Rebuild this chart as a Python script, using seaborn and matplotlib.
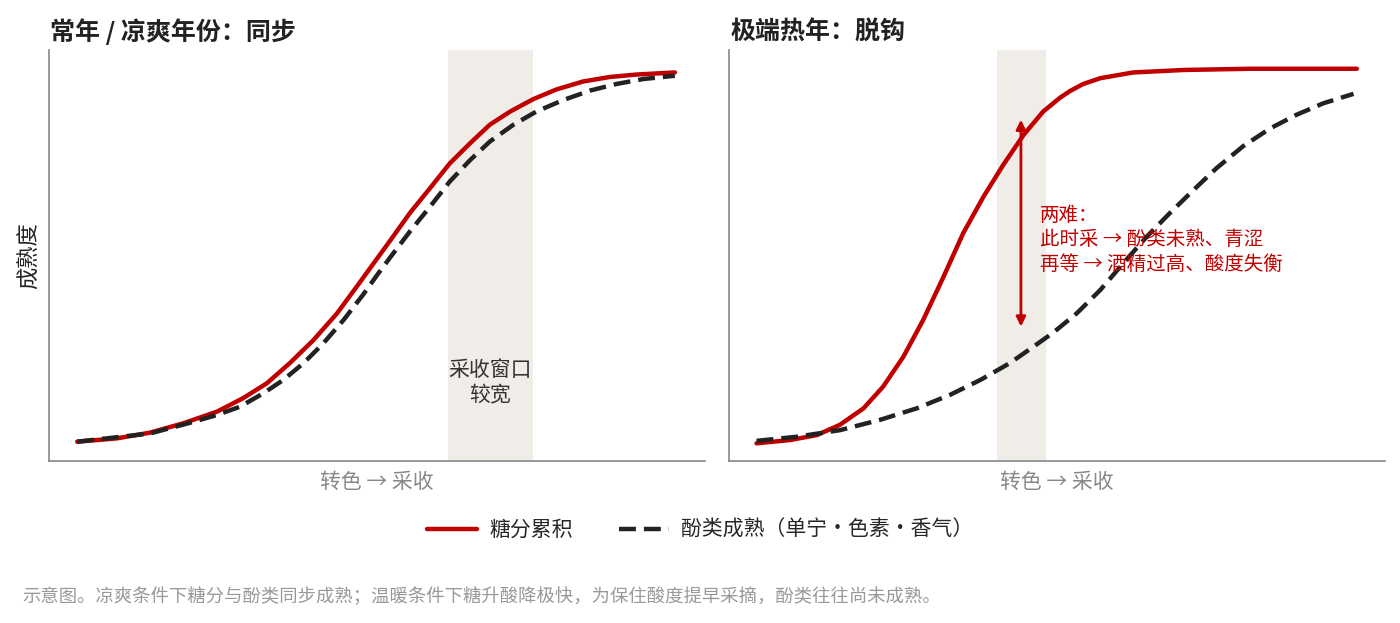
import numpy as np
import pandas as pd
import matplotlib
matplotlib.use("Agg")
import matplotlib.pyplot as plt
from matplotlib.lines import Line2D
import seaborn as sns

# values (x: 0-100 along the season, y: 0-1 ripeness)
cool_sugar_x = [4.3, 10.3, 15.4, 20.5, 25.6, 29.6, 33.2, 36.7, 40.3, 43.9, 46.9, 48.9,
                52.0, 55.0, 58.1, 61.1, 64.2, 67.2, 70.3, 73.8, 77.4, 81.4, 85.5, 89.6, 95.4]
cool_sugar = [0.047, 0.055, 0.069, 0.092, 0.120, 0.153, 0.189, 0.238, 0.294, 0.359, 0.424, 0.468,
              0.536, 0.603, 0.664, 0.724, 0.773, 0.818, 0.850, 0.880, 0.904, 0.923, 0.934, 0.940, 0.945]
cool_phen_x = [4.3, 15.4, 21.5, 25.6, 29.1, 32.7, 35.7, 38.8, 41.8, 44.9, 47.9, 50.0,
               52.0, 55.0, 58.1, 61.1, 64.2, 67.2, 70.8, 74.3, 78.4, 82.5, 86.5, 90.6, 95.4]
cool_phen = [0.047, 0.067, 0.093, 0.112, 0.132, 0.165, 0.197, 0.238, 0.286, 0.343, 0.405, 0.452,
             0.495, 0.558, 0.619, 0.680, 0.732, 0.777, 0.818, 0.850, 0.878, 0.901, 0.917, 0.929, 0.937]

hot_sugar_x = [4.2, 9.3, 13.4, 16.9, 20.5, 23.5, 26.6, 29.6, 32.7, 35.7, 38.8, 41.8, 44.9,
               47.9, 50.5, 52.0, 54.0, 56.6, 61.6, 69.3, 79.4, 95.7]
hot_sugar = [0.043, 0.051, 0.063, 0.088, 0.128, 0.181, 0.254, 0.343, 0.448, 0.554, 0.643, 0.720, 0.793,
             0.850, 0.884, 0.900, 0.917, 0.931, 0.945, 0.951, 0.954, 0.954]
hot_phen_x = [4.2, 10.3, 16.9, 23.0, 28.6, 33.7, 38.3, 42.8, 46.4, 49.4, 53.0, 56.6, 60.1,
              63.7, 67.2, 70.8, 74.3, 78.4, 82.5, 86.5, 90.6, 95.2]
hot_phen = [0.049, 0.059, 0.075, 0.100, 0.128, 0.161, 0.197, 0.238, 0.278, 0.312, 0.359, 0.416, 0.481,
            0.546, 0.603, 0.659, 0.712, 0.766, 0.809, 0.842, 0.870, 0.893]

cool_window = (60.8, 73.8)
hot_window = (40.9, 48.3)
gap_x = 44.5
gap_y = (0.830, 0.327)

titles = ["常年 / 凉爽年份：同步", "极端热年：脱钩"]
x_label = "转色 → 采收"
y_label = "成熟度"
legend_labels = ["糖分累积", "酚类成熟（单宁・色素・香气）"]
window_note = "采收窗口\n较宽"
dilemma_note = "两难：\n此时采 → 酚类未熟、青涩\n再等 → 酒精过高、酸度失衡"
footer = "示意图。凉爽条件下糖分与酚类同步成熟；温暖条件下糖升酸降极快，为保住酸度提早采摘，酚类往往尚未成熟。"

RED = "#c00000"
BLACK = "#222222"
BAND = "#f0ede8"
GREY = "#888888"
DASH = (0, (3.8, 1.8))

sns.set_style("white")
plt.rcParams["font.family"] = ["Noto Sans CJK SC", "DejaVu Sans"]

fig = plt.figure(figsize=(14, 6.23), dpi=100)
ax1 = fig.add_axes([0.035, 0.260, 0.4686, 0.660])
ax2 = fig.add_axes([0.5207, 0.260, 0.4686, 0.660])

panels = [
    (ax1, cool_sugar_x, cool_sugar, cool_phen_x, cool_phen, cool_window),
    (ax2, hot_sugar_x, hot_sugar, hot_phen_x, hot_phen, hot_window),
]
for i, (ax, sx, sy, px, py, win) in enumerate(panels):
    ax.axvspan(win[0], win[1], color=BAND, lw=0, zorder=0)
    sns.lineplot(x=sx, y=sy, ax=ax, color=RED, lw=3.2, zorder=3, sort=False)
    sns.lineplot(x=px, y=py, ax=ax, color=BLACK, lw=3.2, zorder=4, sort=False,
                 linestyle=DASH)
    ax.set_xlim(0, 100)
    ax.set_ylim(0, 1)
    ax.set_xticks([])
    ax.set_yticks([])
    for s in ["top", "right"]:
        ax.spines[s].set_visible(False)
    for s in ["left", "bottom"]:
        ax.spines[s].set_color(GREY)
        ax.spines[s].set_linewidth(1.2)
    ax.set_title(titles[i], loc="left", fontsize=18, fontweight="bold",
                 color="#222222", pad=7, x=0.002)
    ax.set_xlabel(x_label, fontsize=15, color=GREY, labelpad=7)

ax1.set_ylabel(y_label, fontsize=16, color="#222222", labelpad=6)

ax1.text(sum(cool_window) / 2, 0.191, window_note, ha="center", va="center",
         fontsize=15, color="#333333", linespacing=1.2)

ax2.annotate("", xy=(gap_x, gap_y[0]), xytext=(gap_x, gap_y[1]),
             arrowprops=dict(arrowstyle="<|-|>", color=RED, lw=2,
                             mutation_scale=14, shrinkA=0, shrinkB=0))
ax2.text(47.4, 0.538, dilemma_note, ha="left", va="center", fontsize=14,
         color=RED, linespacing=1.2, zorder=5)

handles = [
    Line2D([], [], color=RED, lw=3.2),
    Line2D([], [], color=BLACK, lw=3.2, linestyle=DASH),
]
fig.legend(handles, legend_labels, loc="center", bbox_to_anchor=(0.5, 0.149),
           ncol=2, frameon=False, fontsize=15, handlelength=2.4,
           columnspacing=2.2, handletextpad=0.6)

fig.text(22 / 1400, 1 - 597 / 623, footer, ha="left", va="center",
         fontsize=13.2, color="#999999")

fig.savefig("out.png", dpi=100)
